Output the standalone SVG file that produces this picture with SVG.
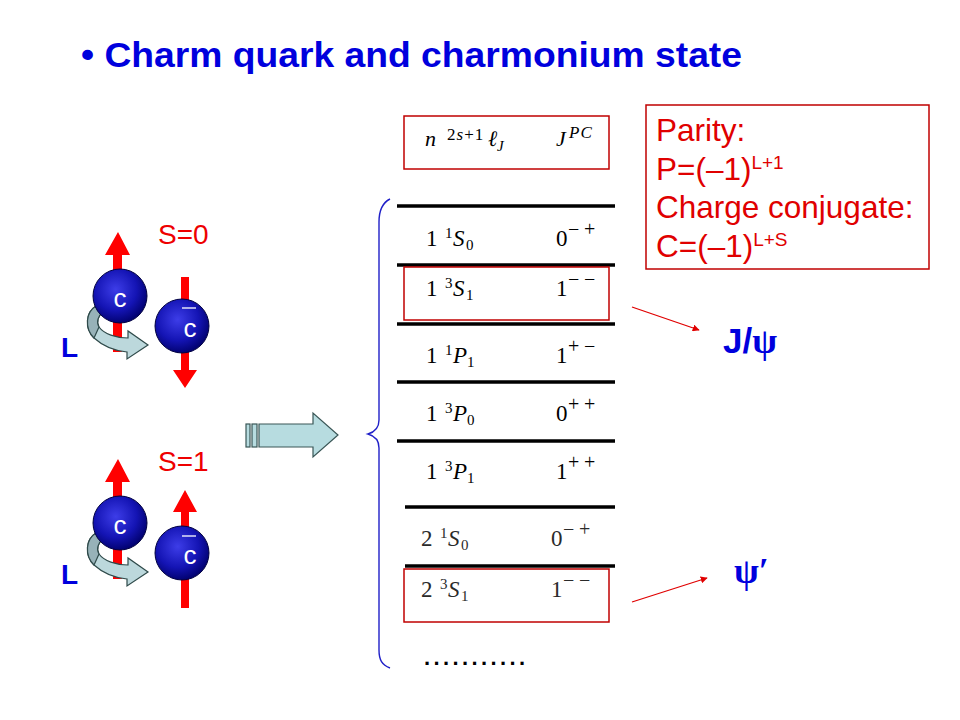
<svg xmlns="http://www.w3.org/2000/svg" width="960" height="720" viewBox="0 0 960 720">
<defs>
<style>
.title{font-family:"Liberation Sans",Arial,sans-serif;font-weight:bold;font-size:35px;fill:#0000DD}
.lbl{font-family:"Liberation Sans",Arial,sans-serif;font-size:28px;fill:#EE0000}
.L{font-family:"Liberation Sans",Arial,sans-serif;font-weight:bold;font-size:28px;fill:#0000DD}
.q{font-family:"Liberation Sans",Arial,sans-serif;font-size:26px;fill:#FFFFFF;text-anchor:middle}
.m{font-family:"Liberation Serif","Times New Roman",serif;font-size:23px;fill:#000}
.m2{font-family:"Liberation Serif","Times New Roman",serif;font-size:23px;fill:#2a2a2a}
.h{font-family:"Liberation Serif","Times New Roman",serif;font-size:22px;fill:#000}
.it{font-style:italic}
.sc{font-size:15px}
.hs{font-size:17px;letter-spacing:1px}
.pm{font-size:20px}
.par{font-family:"Liberation Sans",Arial,sans-serif;font-size:31.5px;fill:#E00000}
.psup{font-size:19px}
.big{font-family:"Liberation Sans",Arial,sans-serif;font-weight:bold;font-size:35px;fill:#0000DD}
.psi{font-family:"Liberation Serif","Times New Roman",serif;font-weight:bold;font-size:36px;fill:#0000DD}
.rule{stroke:#000;stroke-width:3.5}
.rbox{fill:none;stroke:#C00000;stroke-width:1.5}
.spin{fill:#FF0000}
.ball{fill:url(#ballg);stroke:#000040;stroke-width:1}
.band{fill:#BCD8DC;stroke:#2F4A4A;stroke-width:1.2}
.bandin{fill:#97B2B8;stroke:#2F4A4A;stroke-width:1.2}
.conn{stroke:#E00000;stroke-width:1.3;fill:none}
</style>
<radialGradient id="ballg" cx="0.42" cy="0.38" r="0.65">
<stop offset="0" stop-color="#3D3DE8"/>
<stop offset="0.6" stop-color="#1414B4"/>
<stop offset="1" stop-color="#00006A"/>
</radialGradient>
<marker id="ah" viewBox="0 0 10 10" refX="9" refY="5" markerWidth="7" markerHeight="7" markerUnits="userSpaceOnUse" orient="auto">
<path d="M0,0 L10,5 L0,10 Z" fill="#E00000"/>
</marker>
<g id="orbit">
<path class="band" d="M96,306 C86,312 84,328 94,338 C104,347 116,351 127,352 L127,359 L148,345 L128,331 L128,338 C116,338 104,334 99,327 C96,322 98,316 103,312 Z"/>
<path class="bandin" d="M96,306 C86,312 84,328 94,338 L99,327 C96,322 98,316 103,312 Z"/>
</g>
</defs>
<rect width="960" height="720" fill="#FFFFFF"/>

<g id="title">
<text class="title" x="81" y="67" textLength="661" lengthAdjust="spacingAndGlyphs">• Charm quark and charmonium state</text>
</g>

<g id="spin-s0">
<text class="lbl" x="158" y="244">S=0</text>
<path class="spin" d="M118,232 L130,255 L122,255 L122,352 L113,352 L113,255 L105,255 Z"/>
<path class="spin" d="M181,277 L189,277 L189,370 L197,370 L185,388 L173,370 L181,370 Z"/>
<use href="#orbit"/>
<circle class="ball" cx="120" cy="296" r="27"/>
<text class="q" x="120" y="307">c</text>
<circle class="ball" cx="182" cy="326" r="27"/>
<line x1="182" y1="308" x2="196" y2="308" stroke="#FFFFFF" stroke-width="1.3"/>
<text class="q" x="190" y="337">c</text>
<text class="L" x="61" y="357">L</text>
</g>

<g id="spin-s1">
<text class="lbl" x="158" y="471">S=1</text>
<path class="spin" d="M118,459 L130,482 L122,482 L122,579 L113,579 L113,482 L105,482 Z"/>
<path class="spin" d="M185,490 L197,512 L189,512 L189,608 L181,608 L181,512 L173,512 Z"/>
<use href="#orbit" y="227"/>
<circle class="ball" cx="120" cy="523" r="27"/>
<text class="q" x="120" y="534">c</text>
<circle class="ball" cx="182" cy="553" r="27"/>
<line x1="182" y1="536" x2="196" y2="536" stroke="#FFFFFF" stroke-width="1.3"/>
<text class="q" x="190" y="564">c</text>
<text class="L" x="61" y="584">L</text>
</g>

<g id="transition-arrow" fill="#B7DCE0" stroke="#3A5656" stroke-width="1.2">
<rect x="246" y="424" width="4" height="23"/>
<rect x="252" y="424" width="5" height="23"/>
<path d="M259,424 L313,424 L313,413 L338,435 L313,457 L313,447 L259,447 Z"/>
</g>

<g id="table-header">
<rect class="rbox" x="404" y="116" width="205" height="53"/>
<text class="h" x="425" y="146"><tspan class="it">n</tspan><tspan class="hs" x="447" y="140">2<tspan class="it">s</tspan>+1</tspan><tspan class="it" x="488" y="146">ℓ</tspan><tspan class="sc it" x="497" y="151">J</tspan></text>
<text class="h" x="556" y="146"><tspan class="it">J</tspan><tspan class="hs it" x="569" y="138">PC</tspan></text>
</g>

<g id="brace">
<path d="M390,199 C382,203 379,210 379,222 L379,420 C379,428 375,432 368,434 C375,436 379,440 379,448 L379,650 C379,660 382,665 390,668" fill="none" stroke="#2020C8" stroke-width="1.4"/>
</g>

<g id="table-rules">
<line class="rule" x1="397" y1="206" x2="615" y2="206"/>
<line class="rule" x1="397" y1="265" x2="615" y2="265"/>
<line class="rule" x1="397" y1="324" x2="615" y2="324"/>
<line class="rule" x1="397" y1="382" x2="615" y2="382"/>
<line class="rule" x1="397" y1="441" x2="615" y2="441"/>
<line class="rule" x1="405" y1="507" x2="615" y2="507"/>
<line class="rule" x1="405" y1="566" x2="615" y2="566" stroke="#4a4a4a"/>
</g>

<g id="row-1S0">
<text class="m" x="426" y="246">1<tspan class="sc" x="445" y="238">1</tspan><tspan class="it" x="453" y="246">S</tspan><tspan class="sc" x="466" y="250">0</tspan></text>
<text class="m" x="556" y="246">0<tspan class="pm" x="568 584" y="236">−+</tspan></text>
</g>
<g id="row-1S1">
<rect class="rbox" x="404" y="267" width="205" height="53"/>
<text class="m" x="426" y="296">1<tspan class="sc" x="445" y="288">3</tspan><tspan class="it" x="453" y="296">S</tspan><tspan class="sc" x="466" y="300">1</tspan></text>
<text class="m" x="556" y="296">1<tspan class="pm" x="568 584" y="286">−−</tspan></text>
</g>
<g id="row-1P1">
<text class="m" x="426" y="363">1<tspan class="sc" x="445" y="355">1</tspan><tspan class="it" x="453" y="363">P</tspan><tspan class="sc" x="467" y="367">1</tspan></text>
<text class="m" x="556" y="363">1<tspan class="pm" x="568 584" y="353">+−</tspan></text>
</g>
<g id="row-1P0">
<text class="m" x="426" y="421">1<tspan class="sc" x="445" y="413">3</tspan><tspan class="it" x="453" y="421">P</tspan><tspan class="sc" x="467" y="425">0</tspan></text>
<text class="m" x="556" y="421">0<tspan class="pm" x="568 584" y="411">++</tspan></text>
</g>
<g id="row-1P1b">
<text class="m" x="426" y="479">1<tspan class="sc" x="445" y="471">3</tspan><tspan class="it" x="453" y="479">P</tspan><tspan class="sc" x="467" y="483">1</tspan></text>
<text class="m" x="556" y="479">1<tspan class="pm" x="568 584" y="469">++</tspan></text>
</g>
<g id="row-2S0">
<text class="m2" x="421" y="546">2<tspan class="sc" x="440" y="538">1</tspan><tspan class="it" x="448" y="546">S</tspan><tspan class="sc" x="461" y="550">0</tspan></text>
<text class="m2" x="551" y="546">0<tspan class="pm" x="563 579" y="536">−+</tspan></text>
</g>
<g id="row-2S1">
<rect class="rbox" x="404" y="569" width="205" height="53"/>
<text class="m2" x="421" y="597">2<tspan class="sc" x="440" y="589">3</tspan><tspan class="it" x="448" y="597">S</tspan><tspan class="sc" x="461" y="601">1</tspan></text>
<text class="m2" x="551" y="597">1<tspan class="pm" x="563 579" y="587">−−</tspan></text>
</g>
<g id="more">
<text x="424" y="665" font-family="Liberation Sans,Arial,sans-serif" font-size="22" font-weight="bold" fill="#000" letter-spacing="3.4">...........</text>
</g>

<g id="parity-box">
<rect class="rbox" x="646" y="105" width="283" height="164"/>
<text class="par" x="656" y="141">Parity:</text>
<text class="par" x="656" y="180">P=(–1)<tspan class="psup" dy="-11">L+1</tspan></text>
<text class="par" x="656" y="218">Charge conjugate:</text>
<text class="par" x="656" y="257">C=(–1)<tspan class="psup" dy="-11">L+S</tspan></text>
</g>

<g id="jpsi">
<text class="big" x="723" y="353">J/<tspan class="psi">ψ</tspan></text>
</g>
<g id="psiprime">
<text class="psi" x="734" y="583">ψ′</text>
</g>

<g id="connectors">
<line class="conn" x1="632" y1="307" x2="699" y2="330" marker-end="url(#ah)"/>
<line class="conn" x1="632" y1="602" x2="707" y2="578" marker-end="url(#ah)"/>
</g>
</svg>
